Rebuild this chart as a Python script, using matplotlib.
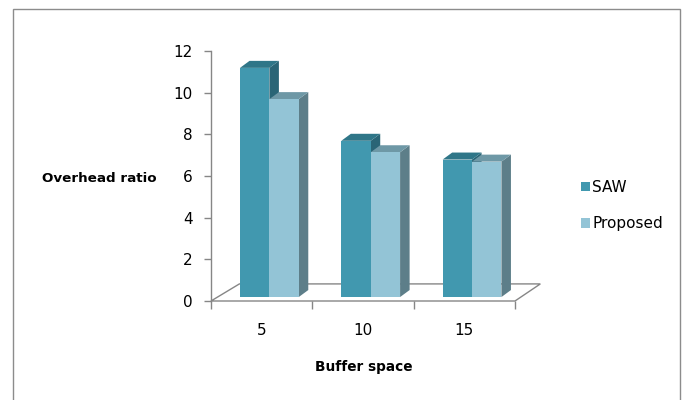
import matplotlib
matplotlib.use("Agg")
import matplotlib.pyplot as plt
from matplotlib.patches import Polygon, Rectangle, Patch
import numpy as np

# data
categories = ['5', '10', '15']
saw = [11.0, 7.5, 6.6]
proposed = [9.5, 6.95, 6.5]
series_names = ['SAW', 'Proposed']

# colours (front, top, side)
saw_cols = ('#4198AF', '#2F7688', '#2A6576')
prop_cols = ('#93C4D6', '#6E98A6', '#5D7E89')
axis_col = '#868686'

plt.rcParams['font.family'] = 'DejaVu Sans'

fig = plt.figure(figsize=(6.84, 4.0), dpi=100)
W, H = 684, 400
ax = fig.add_axes([211 / W, (H - 301) / H, 304 / W, 250 / H])
ax.set_xlim(0, len(categories))
ax.set_ylim(0, 12)

# fake 3D parameters (data units)
bw = 0.29          # bar width
off_x = 0.076      # shift of bar pair from category centre
base = 0.19        # bars sit a bit behind the front floor edge
ddx, ddy = 0.094, 0.336   # bar depth
fdx_l, fdx_r, fdy = 0.28, 0.25, 0.82   # floor depth

# floor
floor = Polygon([(0, 0), (3, 0), (3 + fdx_r, fdy), (fdx_l, fdy)], closed=True,
                facecolor='white', edgecolor=axis_col, lw=1.0, clip_on=False, zorder=1)
ax.add_patch(floor)


def bar3d(x0, v, cols):
    front, top, side = cols
    y1 = base + v
    ax.add_patch(Polygon([(x0 + bw, base), (x0 + bw, y1), (x0 + bw + ddx, y1 + ddy),
                          (x0 + bw + ddx, base + ddy)], closed=True, facecolor=side,
                         edgecolor='none', clip_on=False, zorder=3))
    ax.add_patch(Polygon([(x0, y1), (x0 + bw, y1), (x0 + bw + ddx, y1 + ddy),
                          (x0 + ddx, y1 + ddy)], closed=True, facecolor=top,
                         edgecolor='none', clip_on=False, zorder=3))
    ax.add_patch(Rectangle((x0, base), bw, v, facecolor=front, edgecolor='none',
                           clip_on=False, zorder=3))


for i in range(len(categories)):
    left = i + 0.5 + off_x - bw
    bar3d(left, saw[i], saw_cols)
    bar3d(left + bw, proposed[i], prop_cols)

# axes styling
for s in ['top', 'right', 'bottom']:
    ax.spines[s].set_visible(False)
ax.spines['left'].set_color(axis_col)
ax.spines['left'].set_linewidth(1.0)
ax.set_yticks(np.arange(0, 13, 2))
ax.tick_params(axis='y', direction='out', length=5, width=1.0, color=axis_col,
               labelsize=11, pad=8, labelcolor='black')
ax.set_xticks(np.arange(0, 4))
ax.set_xticklabels([])
ax.set_xticks(np.arange(len(categories)) + 0.5, minor=True)
ax.set_xticklabels(categories, minor=True)
ax.tick_params(axis='x', which='major', direction='out', length=6, width=1.0, color=axis_col)
ax.tick_params(axis='x', which='minor', length=0, labelsize=11, pad=16)
ax.patch.set_alpha(0)

fig.text(42 / W, 1 - 178 / H, 'Overhead ratio', fontsize=9.7, fontweight='bold',
         ha='left', va='center')
fig.text(364 / W, 1 - 367 / H, 'Buffer space', fontsize=9.8, fontweight='bold',
         ha='center', va='center')

handles = [Patch(facecolor=saw_cols[0]), Patch(facecolor=prop_cols[0])]
fig.legend(handles, series_names, loc='upper left', bbox_to_anchor=(581 / W, 1 - 180 / H),
           frameon=False, fontsize=11, handlelength=0.6, handleheight=0.6,
           handletextpad=0.15, labelspacing=1.4, borderpad=0, borderaxespad=0)

# outer chart border
fig.patches.append(Rectangle((13 / W, -0.05), 667 / W, 1 - 9 / H + 0.05,
                             transform=fig.transFigure, fill=False,
                             edgecolor='#8C8C8C', lw=1.0))

fig.savefig('out.png', dpi=100)
